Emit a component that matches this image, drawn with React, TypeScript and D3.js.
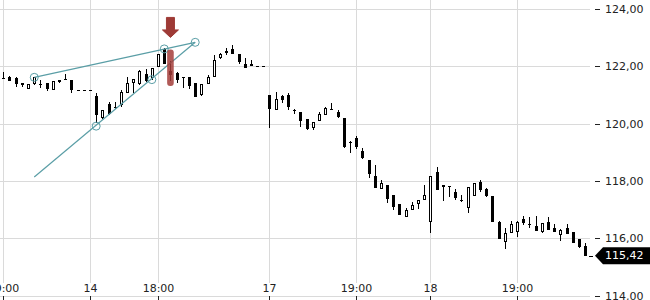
import React from 'react';
import * as d3 from 'd3';

// ---- Data ----
const opens = [
  121.62, 121.65, 121.60, 121.44, 121.22, 121.39, 121.40, 121.42, 121.19, 121.53,
  121.58, 121.54, 121.19, 121.19, 121.19, 120.99, 120.20, 120.69, 120.61, 120.67,
  121.09, 121.44, 121.39, 121.75, 121.60, 122.00, 122.61, 121.85, 121.79, 121.63,
  121.63, 121.42, 121.00, 121.40, 121.65, 122.30, 122.47, 122.63, 122.44, 122.11,
  122.09, 122.04, 122.04, 121.01, 120.49, 120.98, 121.01, 120.49, 120.41, 120.18,
  119.85, 120.11, 120.32, 120.53, 120.43, 120.20, 119.38, 119.52, 119.06, 118.75,
  118.20, 117.74, 117.88, 117.53, 117.22, 116.77, 117.01, 117.21, 117.36, 116.60,
  118.32, 117.80, 117.84, 117.64, 117.37, 117.07, 117.49, 117.99, 117.73, 117.49,
  116.60, 115.90, 116.22, 116.25, 116.68, 116.52, 116.45, 116.23, 116.60, 116.37,
  116.14, 116.37, 116.25, 115.99, 115.75,
];
const highs = [
  121.82, 121.66, 121.63, 121.45, 121.40, 121.64, 121.54, 121.43, 121.51, 121.53,
  121.75, 121.55, 121.19, 121.19, 121.19, 121.07, 120.50, 120.78, 120.78, 121.19,
  121.63, 121.57, 121.89, 121.91, 121.95, 122.44, 122.64, 122.20, 121.80, 121.63,
  121.64, 121.43, 121.40, 121.71, 122.41, 122.49, 122.64, 122.76, 122.46, 122.30,
  122.25, 122.04, 122.04, 121.02, 121.11, 121.01, 121.07, 120.53, 120.42, 120.19,
  120.07, 120.42, 120.61, 120.72, 120.49, 120.21, 119.43, 119.59, 119.16, 118.76,
  118.57, 118.05, 117.89, 117.54, 117.23, 117.08, 117.28, 117.37, 117.88, 118.20,
  118.49, 117.89, 117.85, 117.73, 117.53, 117.81, 117.96, 118.05, 117.76, 117.50,
  116.61, 116.37, 116.63, 116.61, 116.80, 116.77, 116.80, 116.55, 116.77, 116.52,
  116.34, 116.52, 116.26, 116.00, 115.85,
];
const lows = [
  121.57, 121.49, 121.30, 121.28, 121.21, 121.38, 121.25, 121.16, 121.18, 121.42,
  121.53, 121.07, 121.19, 121.19, 121.19, 120.03, 120.19, 120.33, 120.52, 120.61,
  121.08, 121.09, 121.38, 121.48, 121.54, 121.99, 122.08, 121.50, 121.44, 121.25,
  121.24, 120.94, 120.99, 121.39, 121.64, 122.27, 122.41, 122.43, 122.09, 121.96,
  122.02, 122.04, 122.04, 119.85, 120.48, 120.72, 120.49, 120.34, 119.91, 119.81,
  119.79, 120.10, 120.31, 120.51, 120.20, 119.16, 118.98, 119.13, 118.80, 118.11,
  117.77, 117.73, 117.24, 117.01, 116.82, 116.76, 117.00, 117.03, 117.35, 116.22,
  117.69, 117.33, 117.47, 117.36, 117.30, 116.89, 117.48, 117.64, 117.47, 116.59,
  115.99, 115.64, 116.21, 116.08, 116.47, 116.37, 116.28, 116.22, 116.32, 116.24,
  115.94, 116.16, 115.86, 115.70, 115.41,
];
const closes = [
  121.59, 121.51, 121.40, 121.35, 121.39, 121.63, 121.39, 121.21, 121.50, 121.47,
  121.54, 121.19, 121.19, 121.19, 121.19, 120.32, 120.49, 120.34, 120.60, 121.13,
  121.42, 121.56, 121.85, 121.51, 121.94, 122.43, 122.09, 121.71, 121.54, 121.61,
  121.33, 120.95, 121.39, 121.63, 122.23, 122.43, 122.56, 122.44, 122.15, 121.97,
  122.04, 122.04, 122.04, 120.54, 120.87, 120.84, 120.61, 120.46, 120.11, 119.82,
  120.06, 120.34, 120.57, 120.51, 120.24, 119.21, 119.36, 119.21, 118.81, 118.25,
  117.78, 117.94, 117.38, 117.12, 116.83, 117.01, 117.18, 117.36, 117.53, 118.19,
  117.70, 117.88, 117.81, 117.44, 117.35, 117.80, 117.94, 117.70, 117.49, 116.60,
  116.00, 116.20, 116.52, 116.60, 116.54, 116.47, 116.29, 116.54, 116.33, 116.25,
  116.33, 116.17, 115.87, 115.71, 115.42,
];

const priceTicks = [124, 122, 120, 118, 116, 114];
const timeTickIdx = [0, 14, 25, 43, 57, 69, 83];
const timeTickLabels = ['19:00', '14', '18:00', '17', '19:00', '18', '19:00'];
const lastPrice = 115.42;

// drawing annotations (candle index, price)
const upperTrend = [{ i: 5, p: 121.63 }, { i: 31, p: 122.85 }];
const lowerTrend = [{ i: 5, p: 118.16 }, { i: 31, p: 122.85 }];
const anchorPoints = [
  { i: 5, p: 121.63 },
  { i: 26, p: 122.62 },
  { i: 31, p: 122.85 },
  { i: 24, p: 121.55 },
  { i: 15, p: 119.93 },
];
const arrowTip = { i: 27, p: 123.02 };
const highlight = { i: 27, top: 122.6, bottom: 121.33 };

const fmt = (v: number) => v.toFixed(2).replace('.', ',');

export default function App() {
  const x = d3.scaleLinear().domain([0, opens.length - 1]).range([3.3, 585.2]);
  const y = d3.scaleLinear().domain([114, 124]).range([296.4, 9.3]);
  const font = "'DejaVu Sans', Verdana, sans-serif";
  const grid = '#dadada';
  const teal = '#5a9ea6';
  const red = '#9e3a36';

  const line = d3
    .line<{ i: number; p: number }>()
    .x((d) => x(d.i))
    .y((d) => y(d.p));

  const candles = opens.map((o, i) => ({ i, o, h: highs[i], l: lows[i], c: closes[i] }));

  const ax = x(arrowTip.i);
  const ay = y(arrowTip.p);
  const arrowPath = `M${ax - 4},${ay - 20} L${ax + 4},${ay - 20} L${ax + 4},${ay - 7.5} L${ax + 8},${ay - 7.5} L${ax},${ay} L${ax - 8},${ay - 7.5} L${ax - 4},${ay - 7.5} Z`;

  const ly = y(lastPrice);

  return (
    <svg
      width={650}
      height={300}
      style={{ position: 'absolute', left: 0, top: 0, display: 'block' }}
      fontFamily={font}
    >
      <rect width={650} height={300} fill="#fff" />
      {/* horizontal grid */}
      {priceTicks.map((p) => {
        const yy = Math.floor(y(p)) + 0.5;
        return <line key={'h' + p} x1={0} x2={590} y1={yy} y2={yy} stroke={grid} />;
      })}
      {/* vertical grid + ticks */}
      {timeTickIdx.map((i, k) => {
        const xx = Math.round(x(i)) + 0.5;
        return (
          <g key={'v' + k}>
            <line x1={xx} x2={xx} y1={0} y2={283} stroke={grid} />
            <line x1={xx} x2={xx} y1={296} y2={300} stroke="#222" />
          </g>
        );
      })}
      {/* candles */}
      {candles.map((d) => {
        const px = Math.round(x(d.i));
        const top = Math.round(y(Math.max(d.o, d.c)));
        const bot = Math.round(y(Math.min(d.o, d.c)));
        const hgt = Math.max(1, bot - top);
        const up = d.c > d.o && bot - top >= 3;
        return (
          <g key={'c' + d.i}>
            <line
              x1={px + 0.5}
              x2={px + 0.5}
              y1={Math.round(y(d.h))}
              y2={Math.round(y(d.l))}
              stroke="#000"
            />
            {up ? (
              <rect x={px - 0.5} y={top + 0.5} width={2} height={hgt - 1} fill="#fff" stroke="#000" />
            ) : (
              <rect x={px - 1} y={top} width={3} height={hgt} fill="#000" />
            )}
          </g>
        );
      })}
      {/* trend lines */}
      <path d={line(upperTrend) || ''} fill="none" stroke={teal} strokeWidth={1.2} />
      <path d={line(lowerTrend) || ''} fill="none" stroke={teal} strokeWidth={1.2} />
      {anchorPoints.map((d, k) => (
        <circle key={'a' + k} cx={x(d.i)} cy={y(d.p)} r={4} fill="none" stroke={teal} strokeWidth={1} />
      ))}
      {/* highlight bar */}
      <rect
        x={x(highlight.i) - 3.3}
        y={y(highlight.top)}
        width={6.6}
        height={y(highlight.bottom) - y(highlight.top)}
        rx={3}
        fill="#a33d39"
        opacity={0.85}
      />
      {/* arrow */}
      <path d={arrowPath} fill={red} stroke={red} strokeWidth={1} strokeLinejoin="round" />
      {/* x labels */}
      {timeTickIdx.map((i, k) => (
        <text
          key={'xl' + k}
          x={Math.round(x(i)) + 0.5}
          y={292}
          fontSize={11}
          textAnchor="middle"
          fill="#222"
        >
          {timeTickLabels[k]}
        </text>
      ))}
      {/* y labels */}
      {priceTicks.map((p) => {
        const yy = Math.floor(y(p)) + 0.5;
        return (
          <g key={'yl' + p}>
            <line x1={595} x2={600} y1={yy} y2={yy} stroke="#222" />
            <text x={605} y={yy} dy="0.35em" fontSize={11} fill="#222">
              {fmt(p)}
            </text>
          </g>
        );
      })}
      {/* last price label */}
      <line x1={589} x2={593} y1={Math.round(ly) + 0.5} y2={Math.round(ly) + 0.5} stroke="#000" />
      <path
        d={`M595,${ly} L603,${ly - 8.5} L650,${ly - 8.5} L650,${ly + 8.5} L603,${ly + 8.5} Z`}
        fill="#000"
      />
      <text x={605} y={ly} dy="0.35em" fontSize={11} fill="#fff">
        {fmt(lastPrice)}
      </text>
    </svg>
  );
}
